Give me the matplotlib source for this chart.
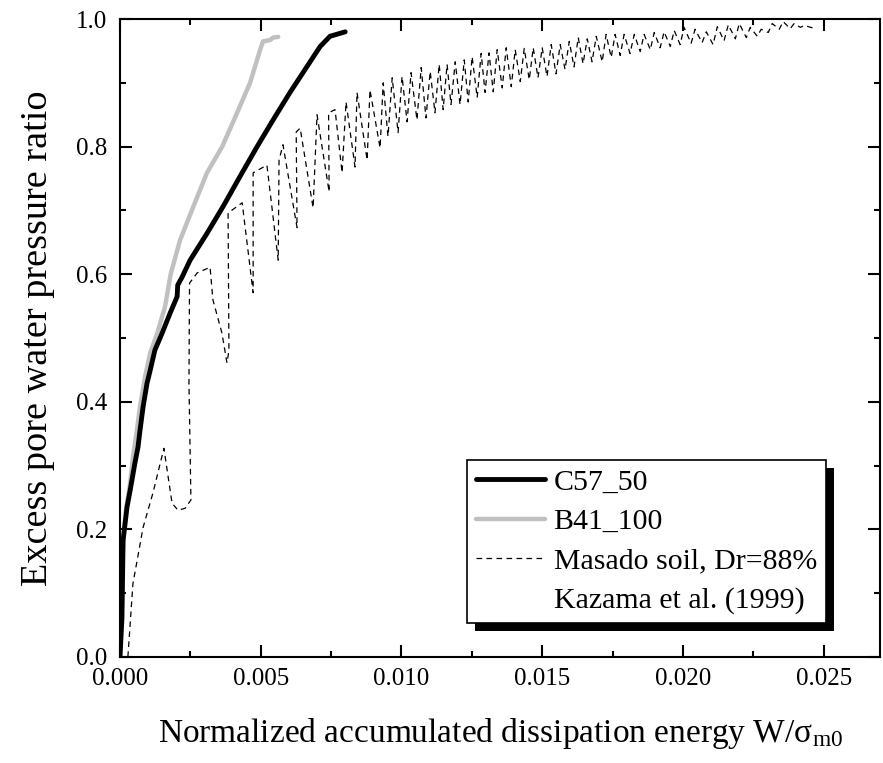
import matplotlib
matplotlib.use("Agg")
import matplotlib.pyplot as plt
from matplotlib.patches import Rectangle
from matplotlib.transforms import IdentityTransform
from matplotlib.ticker import MultipleLocator, FormatStrFormatter

plt.rcParams['font.family'] = ['Liberation Serif', 'DejaVu Serif']
plt.rcParams['mathtext.fontset'] = 'custom'
plt.rcParams['mathtext.rm'] = 'Liberation Serif'
plt.rcParams['mathtext.it'] = 'Liberation Serif:italic'

# x values are in units of 1e-3 (W/sigma_m0 * 1000)
c57_x = [0, 0.07, 0.11, 0.25, 0.36, 0.53, 0.64, 0.71, 0.82, 0.96, 1.07, 1.24, 1.49, 1.78,
         2.03, 2.05, 2.20, 2.49, 3.09, 3.66, 4.26, 4.87, 5.44, 6.04, 6.65, 7.11, 7.46, 8.00]
c57_y = [0, 0.062, 0.183, 0.235, 0.261, 0.304, 0.329, 0.355, 0.392, 0.429, 0.449, 0.481, 0.507, 0.539,
         0.565, 0.583, 0.595, 0.622, 0.664, 0.706, 0.753, 0.800, 0.842, 0.885, 0.926, 0.957, 0.973, 0.980]

b41_x = [0, 0.07, 0.11, 0.21, 0.36, 0.46, 0.60, 0.71, 0.89, 1.07, 1.32, 1.60, 1.80, 2.13,
         2.56, 3.09, 3.63, 4.16, 4.62, 4.98, 5.08, 5.33, 5.44, 5.62]
b41_y = [0, 0.115, 0.178, 0.230, 0.272, 0.313, 0.355, 0.392, 0.439, 0.476, 0.507, 0.549, 0.600, 0.653,
         0.701, 0.759, 0.800, 0.853, 0.900, 0.952, 0.965, 0.967, 0.971, 0.972]

# Masado soil (Kazama et al. 1999), read cycle by cycle
masado_x = [0.28, 0.46, 0.82, 1.17, 1.56, 1.85, 2.06, 2.31, 2.52, 2.45, 2.47, 2.74, 3.20,
            3.30, 3.62, 3.80, 3.87, 3.84, 4.34, 4.73, 4.73, 5.22, 5.62, 5.65, 5.79, 6.29,
            6.26, 6.40, 6.86, 7.00, 7.43, 7.41, 7.64, 7.89, 8.03, 8.35, 8.42, 8.78, 8.88,
            9.24, 9.35, 9.52,
            9.67, 9.88, 10.02, 10.20, 10.34, 10.55, 10.70, 10.87, 11.02, 11.19, 11.34, 11.48,
            11.62, 11.76, 11.91, 12.08, 12.23, 12.37, 12.51, 12.69, 12.83, 12.97, 13.11, 13.26,
            13.40, 13.58, 13.72, 13.90, 14.04, 14.22, 14.36, 14.54, 14.68, 14.85, 15.00, 15.17,
            15.32, 15.49, 15.64, 15.81, 15.96, 16.13, 16.28, 16.45, 16.60, 16.77, 16.92, 17.13,
            17.27, 17.45, 17.59, 17.77, 17.91, 18.12, 18.27, 18.48, 18.62, 18.84, 18.98, 19.19,
            19.33, 19.55, 19.69, 19.90, 20.04, 20.29, 20.43, 20.68, 20.83, 21.07, 21.22, 21.46,
            21.61, 21.86, 22.00, 22.25, 22.39, 22.64, 22.78, 23.03, 23.17, 23.42, 23.56, 23.81,
            23.95, 24.17, 24.31, 24.70]
masado_y = [0.0, 0.115, 0.203, 0.257, 0.327, 0.241, 0.230, 0.233, 0.246, 0.430, 0.586, 0.602, 0.611,
            0.560, 0.508, 0.461, 0.480, 0.696, 0.712, 0.571, 0.759, 0.771, 0.622, 0.779, 0.803, 0.673,
            0.823, 0.829, 0.704, 0.850, 0.729, 0.853, 0.858, 0.759, 0.870, 0.768, 0.885, 0.779, 0.889,
            0.798, 0.900, 0.816,
            0.908, 0.822, 0.910, 0.839, 0.916, 0.842, 0.924, 0.845, 0.918, 0.853, 0.929, 0.858,
            0.929, 0.866, 0.933, 0.866, 0.936, 0.870, 0.941, 0.877, 0.946, 0.885, 0.947, 0.886,
            0.952, 0.892, 0.955, 0.894, 0.952, 0.902, 0.954, 0.905, 0.955, 0.908, 0.955, 0.910,
            0.960, 0.914, 0.960, 0.921, 0.965, 0.925, 0.971, 0.930, 0.969, 0.933, 0.973, 0.933,
            0.976, 0.940, 0.976, 0.943, 0.976, 0.946, 0.976, 0.949, 0.976, 0.952, 0.979, 0.955,
            0.980, 0.957, 0.982, 0.960, 0.987, 0.962, 0.984, 0.963, 0.980, 0.960, 0.988, 0.966,
            0.991, 0.969, 0.993, 0.971, 0.987, 0.973, 0.984, 0.979, 0.993, 0.984, 0.996, 0.985,
            0.993, 0.987, 0.990, 0.985]

labels = ['C57_50', 'B41_100', 'Masado soil, Dr=88%', 'Kazama et al. (1999)']

fig = plt.figure(figsize=(8.83, 7.63), dpi=100)
ax = fig.add_axes([0.1359, 0.139, 0.8607, 0.836])

ax.plot([v * 1e-3 for v in masado_x], masado_y, color='black', lw=0.9,
        linestyle=(0, (4.5, 3.5)), label=labels[2])
ax.plot([v * 1e-3 for v in b41_x], b41_y, color='#c0c0c0', lw=3.2, label=labels[1],
        solid_capstyle='round')
ax.plot([v * 1e-3 for v in c57_x], c57_y, color='black', lw=3.5, label=labels[0],
        solid_capstyle='round')

ax.set_xlim(0, 0.027)
ax.set_ylim(0, 1.0)
ax.xaxis.set_major_locator(MultipleLocator(0.005))
ax.xaxis.set_minor_locator(MultipleLocator(0.0025))
ax.yaxis.set_major_locator(MultipleLocator(0.2))
ax.yaxis.set_minor_locator(MultipleLocator(0.1))
ax.xaxis.set_major_formatter(FormatStrFormatter('%.3f'))
ax.yaxis.set_major_formatter(FormatStrFormatter('%.1f'))
ax.tick_params(which='both', direction='in', top=True, right=True, width=1.5, labelsize=18)
ax.tick_params(which='major', length=8.5)
ax.tick_params(which='minor', length=4.5)
ax.tick_params(axis='x', which='major', pad=8)
ax.tick_params(axis='y', which='major', pad=9)
for s in ax.spines.values():
    s.set_linewidth(1.5)

ax.set_xlabel('Normalized accumulated dissipation energy W/σ$_{\\mathrm{m0}}$', fontsize=24, labelpad=19)
ax.set_ylabel('Excess pore water pressure ratio', fontsize=27.5, labelpad=15)

h, l = ax.get_legend_handles_labels()
order = [2, 1, 0]
handles = [h[i] for i in order] + [plt.Line2D([], [], color='none')]
leg = ax.legend(handles, labels, loc='upper left', bbox_to_anchor=(0.4566, 0.309),
                borderaxespad=0, fontsize=21.5, frameon=True, fancybox=False, framealpha=1,
                edgecolor='black', handlelength=2.3, handletextpad=0.3, labelspacing=0.42,
                borderpad=0.3)
leg.get_frame().set_linewidth(1.2)
leg.set_zorder(6)

fig.canvas.draw()
bb = leg.get_window_extent()
shadow = Rectangle((bb.x0 + 8, bb.y0 - 8), bb.width, bb.height, transform=IdentityTransform(),
                   facecolor='black', edgecolor='none', zorder=5.5)
ax.add_artist(shadow)

fig.savefig('out.png', dpi=100)
